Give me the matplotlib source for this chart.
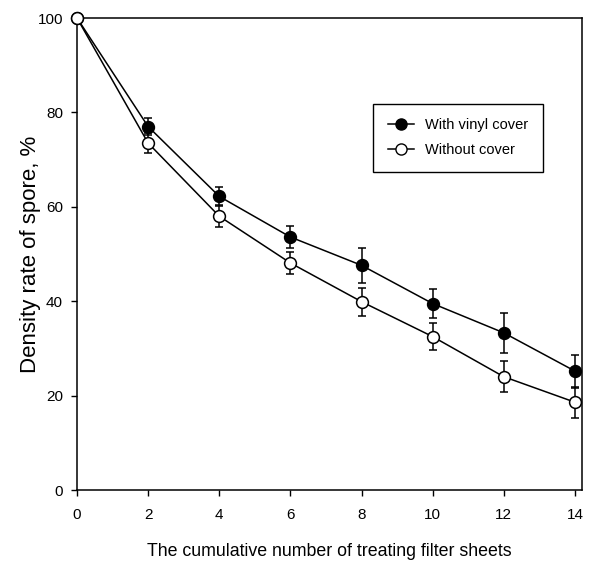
# Spore density vs cumulative filter sheets

import matplotlib
matplotlib.use('Agg')
import matplotlib.pyplot as plt
from matplotlib.lines import Line2D

# data
sheets = [0, 2, 4, 6, 8, 10, 12, 14]
with_cover = [100, 77.0, 62.2, 53.6, 47.6, 39.5, 33.3, 25.2]
with_cover_err = [0, 1.8, 2.0, 2.4, 3.7, 3.0, 4.2, 3.5]
without_cover = [100, 73.5, 58.0, 48.1, 39.9, 32.5, 24.0, 18.6]
without_cover_err = [0, 2.1, 2.3, 2.3, 3.0, 2.8, 3.3, 3.3]
labels = ['With vinyl cover', 'Without cover']
x_ticks = [0, 2, 4, 6, 8, 10, 12, 14]
y_ticks = [0, 20, 40, 60, 80, 100]

plt.rcParams['font.family'] = ['Liberation Sans', 'DejaVu Sans']

fig = plt.figure(figsize=(5.9, 5.67), dpi=100)
ax = fig.add_axes([77 / 590, 1 - 490 / 567, 505 / 590, 472 / 567])

style = dict(color='black', lw=1.1, marker='o', ms=8.5, mec='black', mew=1.1,
             capsize=3, elinewidth=1.1, capthick=1.1, clip_on=False, zorder=3)
ax.errorbar(sheets, with_cover, yerr=with_cover_err, mfc='black', **style)
ax.errorbar(sheets, without_cover, yerr=without_cover_err, mfc='white', **style)

ax.set_xlim(0, 14.2)
ax.set_ylim(0, 100)
ax.set_xticks(x_ticks)
ax.set_yticks(y_ticks)
ax.tick_params(direction='out', length=4, width=1, labelsize=11)
ax.tick_params(axis='x', pad=9)
ax.tick_params(axis='y', pad=6)
for s in ax.spines.values():
    s.set_linewidth(1.1)

ax.set_xlabel('The cumulative number of treating filter sheets', fontsize=12.8, labelpad=15)
ax.set_ylabel('Density rate of spore, %', fontsize=16)
ax.yaxis.set_label_coords(-0.072, 0.5)

handles = [Line2D([], [], color='black', lw=1.1, marker='o', ms=8, mfc='black', mec='black'),
           Line2D([], [], color='black', lw=1.1, marker='o', ms=8, mfc='white', mec='black')]
leg = ax.legend(handles, labels, loc='upper left', bbox_to_anchor=(0.586, 0.818),
                borderaxespad=0, fancybox=False, edgecolor='black', fontsize=10.5,
                handlelength=1.8, borderpad=1.0, labelspacing=0.75, handletextpad=0.8,
                framealpha=1)
leg.get_frame().set_linewidth(1)

fig.savefig('out.png', dpi=100)
